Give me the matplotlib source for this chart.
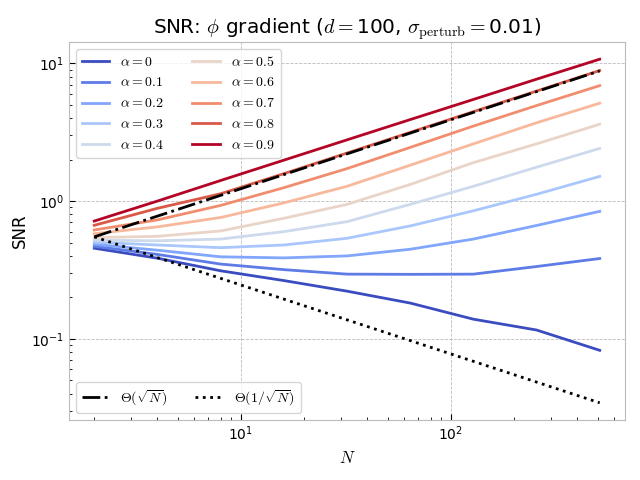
import numpy as np
import matplotlib
matplotlib.use("Agg")
import matplotlib.pyplot as plt

plt.rcParams['mathtext.fontset'] = 'cm'

N = [2, 4, 8, 16, 32, 64, 128, 256, 512]
alphas = [0, 0.1, 0.2, 0.3, 0.4, 0.5, 0.6, 0.7, 0.8, 0.9]

snr_a00 = [0.455, 0.385, 0.312, 0.265, 0.222, 0.182, 0.139, 0.116, 0.0826]
snr_a01 = [0.470, 0.410, 0.349, 0.318, 0.295, 0.294, 0.295, 0.335, 0.383]
snr_a02 = [0.486, 0.440, 0.394, 0.387, 0.400, 0.447, 0.530, 0.665, 0.842]
snr_a03 = [0.503, 0.480, 0.459, 0.480, 0.537, 0.660, 0.850, 1.12, 1.51]
snr_a04 = [0.520, 0.515, 0.530, 0.600, 0.709, 0.946, 1.28, 1.76, 2.41]
snr_a05 = [0.543, 0.555, 0.607, 0.750, 0.946, 1.32, 1.90, 2.60, 3.61]
snr_a06 = [0.580, 0.650, 0.760, 0.970, 1.28, 1.82, 2.60, 3.70, 5.13]
snr_a07 = [0.617, 0.730, 0.930, 1.25, 1.72, 2.45, 3.50, 4.93, 6.88]
snr_a08 = [0.667, 0.886, 1.13, 1.58, 2.23, 3.15, 4.45, 6.28, 8.85]
snr_a09 = [0.716, 1.00, 1.41, 1.98, 2.78, 3.90, 5.46, 7.66, 10.7]
series = [snr_a00, snr_a01, snr_a02, snr_a03, snr_a04,
          snr_a05, snr_a06, snr_a07, snr_a08, snr_a09]

ref_c = 0.55
Narr = np.array(N, dtype=float)
ref_sqrt = ref_c * np.sqrt(Narr / N[0])
ref_inv = ref_c / np.sqrt(Narr / N[0])

fig, ax = plt.subplots(figsize=(6.4, 4.8), dpi=100)
colors = plt.cm.coolwarm(np.linspace(0, 1, len(alphas)))

alpha_lines = []
for a, s, c in zip(alphas, series, colors):
    ln, = ax.plot(N, s, color=c, lw=2, label=rf'$\alpha={a}$')
    alpha_lines.append(ln)

l1, = ax.plot(N, ref_sqrt, color='black', ls='-.', lw=2, label=r'$\Theta(\sqrt{N})$')
l2, = ax.plot(N, ref_inv, color='black', ls=':', lw=2, label=r'$\Theta(1/\sqrt{N})$')

ax.set_xscale('log')
ax.set_yscale('log')
ax.set_xlabel(r'$N$', fontsize=12)
ax.set_ylabel('SNR', fontsize=12, labelpad=1.5)
ax.set_title(r'SNR: $\phi$ gradient ($d=$100, $\sigma_{\rm perturb}=$0.01)', fontsize=14.4)

ax.grid(True, which='major', ls='--', lw=0.6, color='#bbbbbb')
for sp in ax.spines.values():
    sp.set_color('#bbbbbb')
ax.tick_params(which='both', direction='in', top=False, right=False)
ax.tick_params(which='major', length=4)
ax.tick_params(which='minor', length=2.5)

leg1 = ax.legend(handles=alpha_lines, loc='upper left', ncol=2, fontsize=10)
ax.add_artist(leg1)
ax.legend(handles=[l1, l2], loc='lower left', ncol=2, fontsize=10)

fig.subplots_adjust(left=69/640, right=625/640, top=1-42/480, bottom=1-420/480)
fig.savefig('out.png', dpi=100)
